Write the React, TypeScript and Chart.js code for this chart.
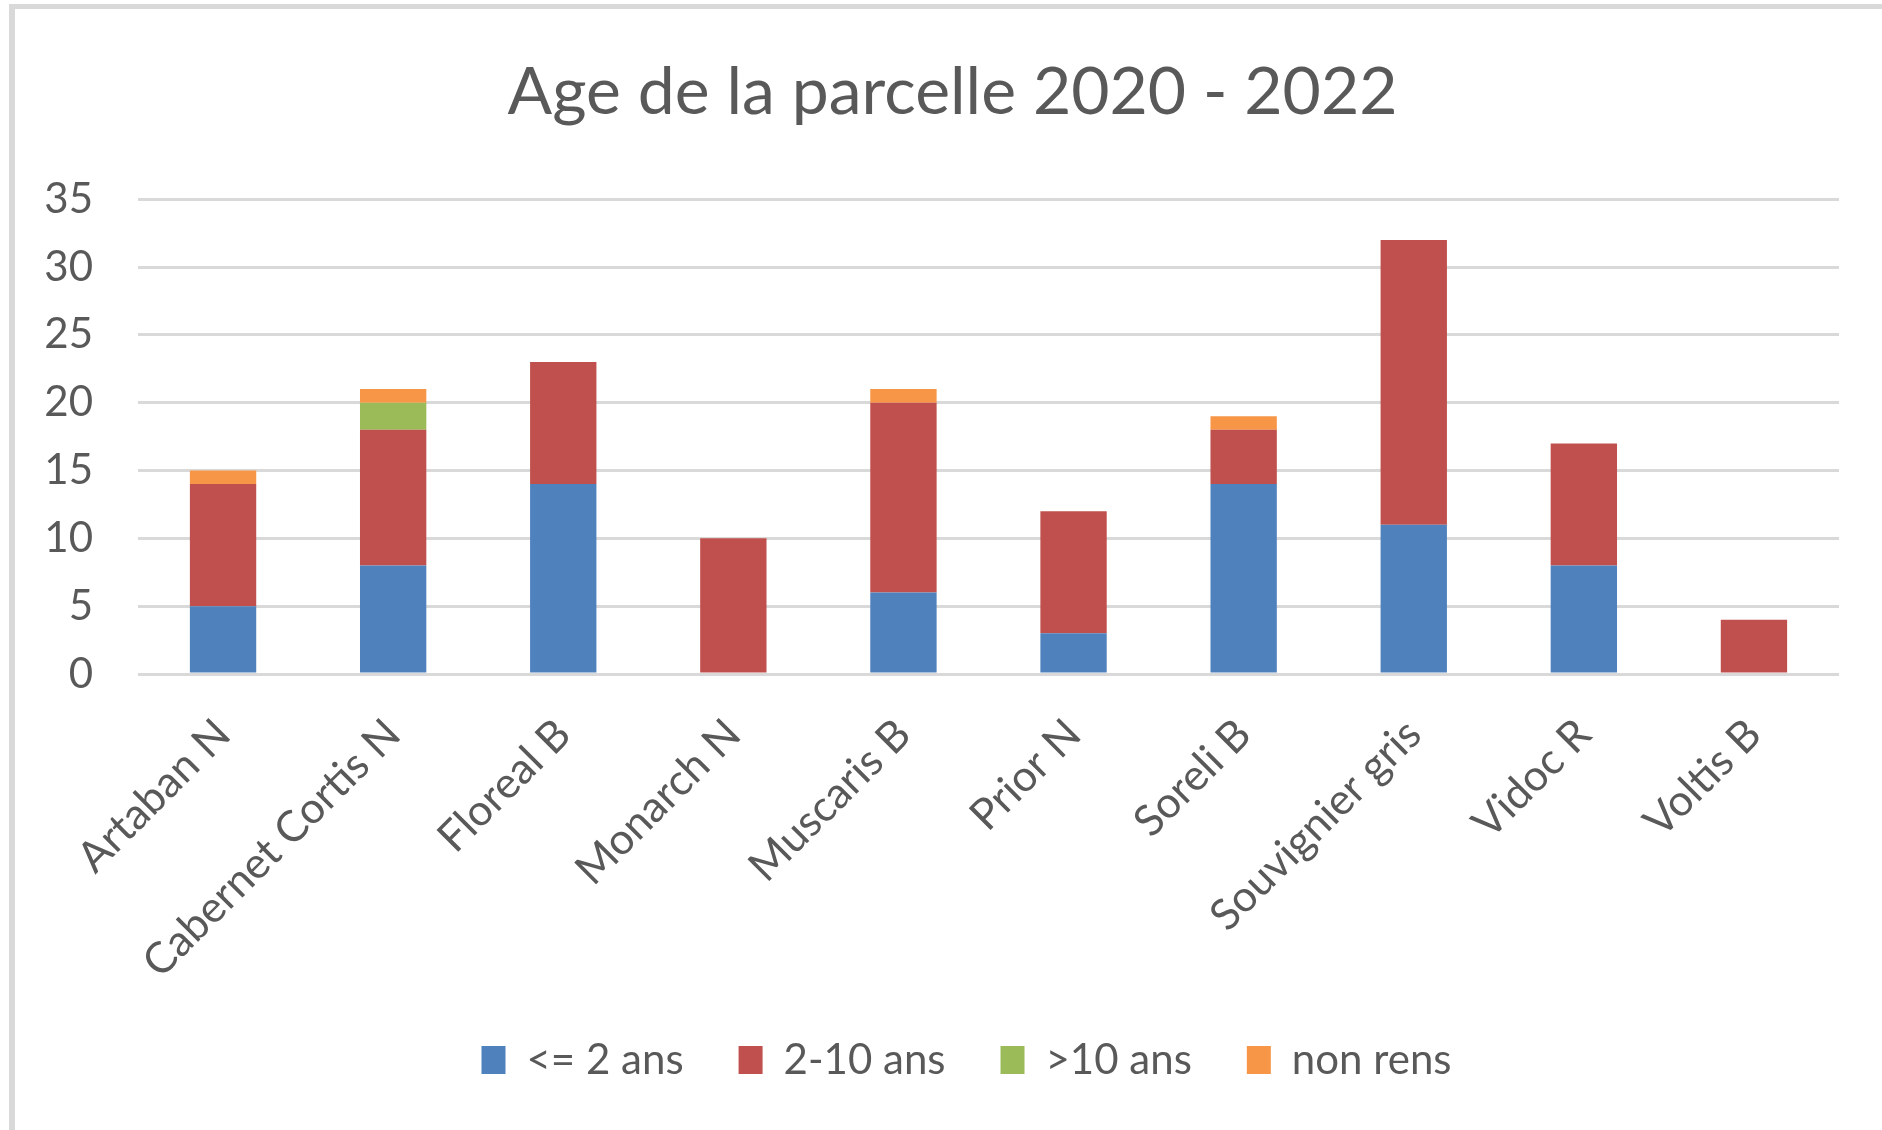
import React, { useEffect, useRef } from "react";
import { Chart, registerables } from "chart.js";

Chart.register(...registerables);

const categories = [
  "Artaban N",
  "Cabernet Cortis N",
  "Floreal B",
  "Monarch N",
  "Muscaris B",
  "Prior N",
  "Soreli B",
  "Souvignier gris",
  "Vidoc R",
  "Voltis B",
];
const seriesNames = ["<= 2 ans", "2-10 ans", ">10 ans", "non rens"];
const lessThan2 = [5, 8, 14, 0, 6, 3, 14, 11, 8, 0];
const from2to10 = [9, 10, 9, 10, 14, 9, 4, 21, 9, 4];
const moreThan10 = [0, 2, 0, 0, 0, 0, 0, 0, 0, 0];
const nonRens = [1, 1, 0, 0, 1, 0, 1, 0, 0, 0];
const yTicks = [0, 5, 10, 15, 20, 25, 30, 35];
const titleText = "Age de la parcelle 2020 - 2022";

const colors = ["#4F81BD", "#C0504D", "#9BBB59", "#F79646"];
const TEXT = "#595959";
const FONT = "Lato";

// horizontal offsets of the title and legend blocks (layout only)
const TITLE_SHIFT = 33;
const LEGEND_SHIFT = 47;

const shiftBlocks = {
  id: "shiftBlocks",
  afterLayout(chart: any) {
    if (chart.titleBlock) {
      chart.titleBlock.left += TITLE_SHIFT;
      chart.titleBlock.right += TITLE_SHIFT;
    }
    if (chart.legend) {
      chart.legend.left += LEGEND_SHIFT;
      chart.legend.right += LEGEND_SHIFT;
    }
  },
};

export default function App() {
  const ref = useRef<HTMLCanvasElement | null>(null);

  useEffect(() => {
    document.body.style.margin = "0";
    if (!ref.current) return;
    const values = [lessThan2, from2to10, moreThan10, nonRens];
    const chart = new Chart(ref.current, {
      type: "bar",
      data: {
        labels: categories,
        datasets: seriesNames.map((name, i) => ({
          label: name,
          data: values[i],
          backgroundColor: colors[i],
          borderWidth: 0,
          categoryPercentage: 1,
          barPercentage: 0.39,
        })),
      },
      plugins: [shiftBlocks],
      options: {
        animation: false,
        responsive: false,
        devicePixelRatio: 1,
        layout: { padding: { left: 0, right: 43, top: 0, bottom: 39 } },
        plugins: {
          title: {
            display: true,
            text: titleText,
            color: TEXT,
            font: { family: FONT, size: 66, weight: "normal" },
            padding: { top: 53, bottom: 67 },
          },
          legend: {
            position: "bottom",
            labels: {
              color: TEXT,
              font: { family: FONT, size: 42 },
              boxWidth: 24,
              boxHeight: 28,
              padding: 55,
            },
          },
          tooltip: { enabled: false },
        },
        scales: {
          x: {
            stacked: true,
            grid: { display: false, drawTicks: false },
            border: { display: false },
            ticks: {
              color: TEXT,
              font: { family: FONT, size: 43 },
              minRotation: 45,
              maxRotation: 45,
              padding: 35,
              autoSkip: false,
            },
            afterFit: (s: any) => {
              s.height = 310;
            },
          },
          y: {
            stacked: true,
            min: 0,
            max: 35,
            afterBuildTicks: (s: any) => {
              s.ticks = yTicks.map((v) => ({ value: v }));
            },
            grid: { color: "#D9D9D9", lineWidth: 3, drawTicks: false },
            border: { display: false },
            ticks: {
              color: TEXT,
              font: { family: FONT, size: 42 },
              padding: 45,
            },
            afterFit: (s: any) => {
              s.width = 138;
            },
          },
        },
      },
    });
    return () => chart.destroy();
  }, []);

  return (
    <div style={{ position: "relative", width: 1882, height: 1130, overflow: "hidden" }}>
      <div
        style={{
          position: "absolute",
          left: 9,
          top: 4,
          width: 1900,
          height: 1140,
          borderLeft: "6px solid #D9D9D9",
          borderTop: "5px solid #D9D9D9",
        }}
      />
      <canvas
        ref={ref}
        width={1882}
        height={1130}
        style={{ position: "absolute", left: 0, top: 0, width: 1882, height: 1130 }}
      />
    </div>
  );
}
